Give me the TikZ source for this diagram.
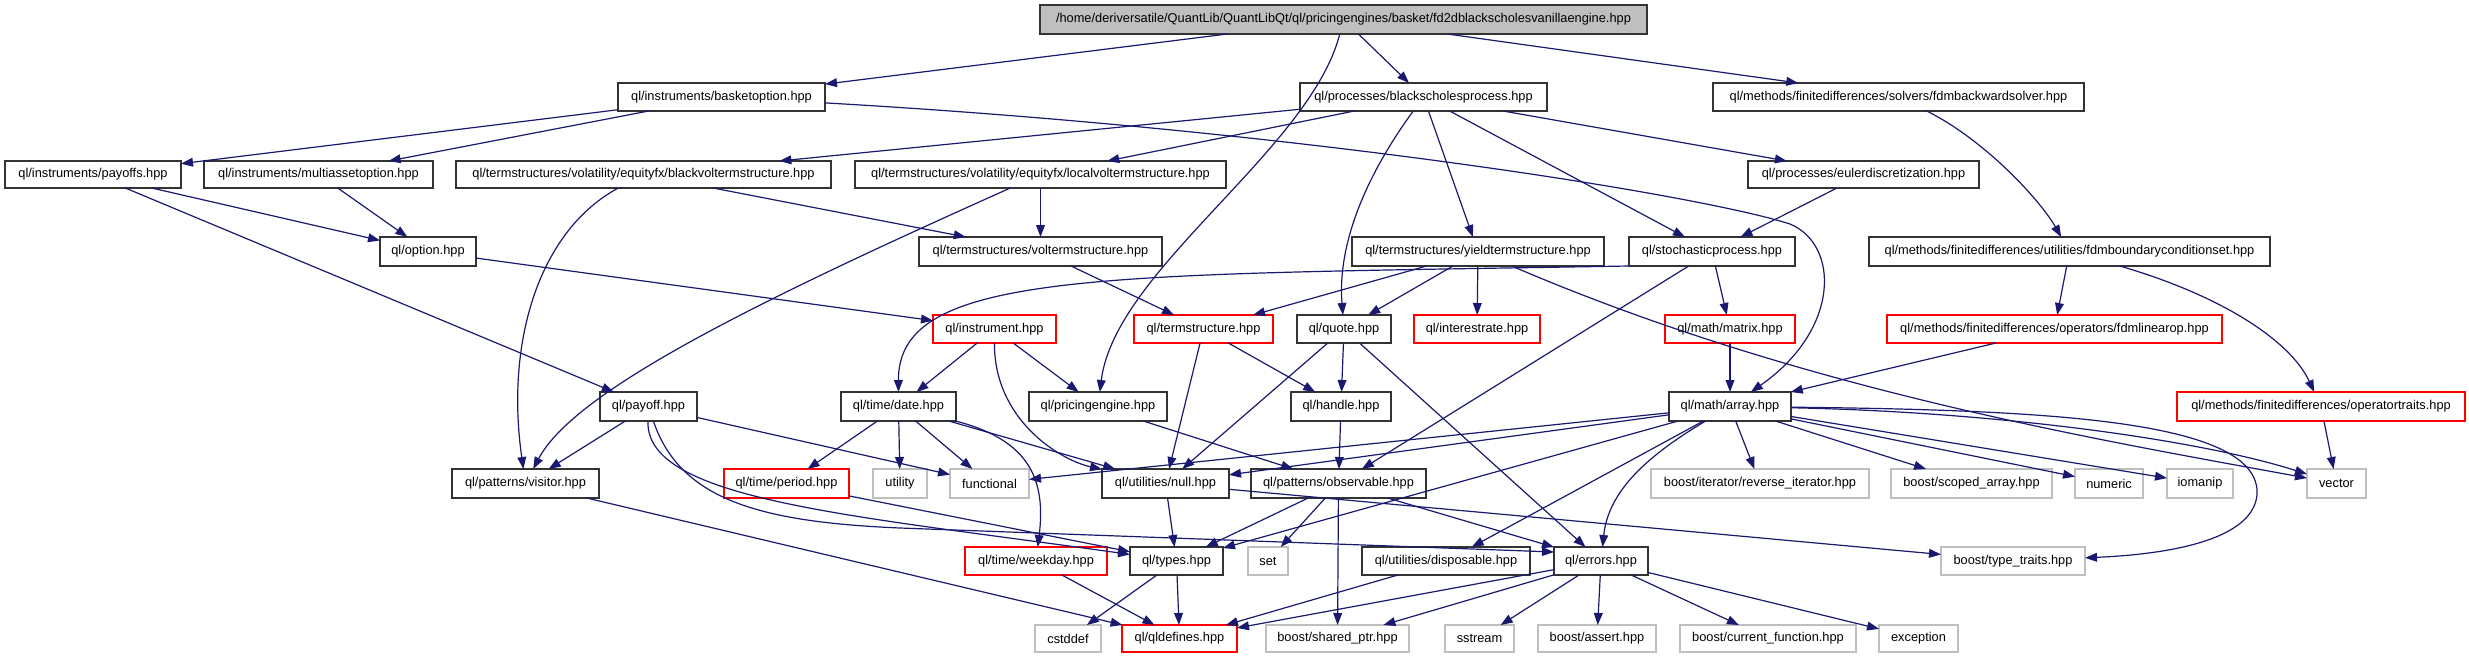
\documentclass[tikz,border=0pt]{standalone}
\usepackage{fontspec}
\setmainfont{Liberation Sans}
\usetikzlibrary{arrows.meta,calc}
\definecolor{mblue}{HTML}{191970}
\definecolor{gseventyfive}{HTML}{BFBFBF}
\newcommand{\bx}[7]{\node[#6,minimum width={(#4-#2)*0.5pt},minimum height={(#5-#3)*0.5pt}] (#1) at ({(#2+#4)/2},{(#3+#5)/2}) {#7};}
\begin{document}
\begin{tikzpicture}[x=0.5pt,y=-0.5pt,
 nd/.style={draw=black!80,line width=0.7pt,fill=white,inner sep=0pt,outer sep=0pt,font=\fontsize{6.4}{7}\selectfont},
 nb/.style={nd},
 nr/.style={nd,draw=red},
 ng/.style={nd,draw=gseventyfive},
 nroot/.style={nd,fill=gseventyfive},
 dep/.style={draw=mblue,line width=0.6pt,-{Triangle[length=6pt,width=4.4pt]}}]
\useasboundingbox[fill=white] (0,0) rectangle (2469,659);
% row 0
\bx{root}{1040}{5}{1647}{34}{nroot}{/home/deriversatile/QuantLib/QuantLibQt/ql/pricingengines/basket/fd2dblackscholesvanillaengine.hpp}
% row 1
\bx{basket}{618}{83}{825}{111}{nb}{ql/instruments/basketoption.hpp}
\bx{bsp}{1300}{83}{1547}{111}{nb}{ql/processes/blackscholesprocess.hpp}
\bx{fdmbws}{1713}{83}{2084}{111}{nb}{ql/methods/finitedifferences/solvers/fdmbackwardsolver.hpp}
% row 2
\bx{payoffs}{5}{161}{181}{188}{nb}{ql/instruments/payoffs.hpp}
\bx{multi}{204}{161}{433}{188}{nb}{ql/instruments/multiassetoption.hpp}
\bx{blackvol}{456}{161}{831}{188}{nb}{ql/termstructures/volatility/equityfx/blackvoltermstructure.hpp}
\bx{localvol}{855}{161}{1226}{188}{nb}{ql/termstructures/volatility/equityfx/localvoltermstructure.hpp}
\bx{euler}{1748}{161}{1979}{188}{nb}{ql/processes/eulerdiscretization.hpp}
% row 3
\bx{option}{380}{237}{476}{266}{nb}{ql/option.hpp}
\bx{volts}{919}{237}{1162}{266}{nb}{ql/termstructures/voltermstructure.hpp}
\bx{yield}{1352}{237}{1604}{266}{nb}{ql/termstructures/yieldtermstructure.hpp}
\bx{stoch}{1629}{237}{1795}{266}{nb}{ql/stochasticprocess.hpp}
\bx{fdmbcs}{1869}{237}{2270}{266}{nb}{ql/methods/finitedifferences/utilities/fdmboundaryconditionset.hpp}
% row 4
\bx{instr}{933}{315}{1056}{343}{nr}{ql/instrument.hpp}
\bx{ts}{1134}{315}{1273}{343}{nr}{ql/termstructure.hpp}
\bx{quote}{1297}{315}{1391}{343}{nb}{ql/quote.hpp}
\bx{irate}{1414}{315}{1540}{343}{nr}{ql/interestrate.hpp}
\bx{matrix}{1665}{315}{1795}{343}{nr}{ql/math/matrix.hpp}
\bx{fdmlin}{1887}{315}{2222}{343}{nr}{ql/methods/finitedifferences/operators/fdmlinearop.hpp}
% row 5
\bx{payoff}{600}{392}{697}{421}{nb}{ql/payoff.hpp}
\bx{date}{841}{392}{956}{421}{nb}{ql/time/date.hpp}
\bx{pe}{1029}{392}{1167}{421}{nb}{ql/pricingengine.hpp}
\bx{handle}{1291}{392}{1391}{421}{nb}{ql/handle.hpp}
\bx{array}{1669}{392}{1791}{421}{nb}{ql/math/array.hpp}
\bx{optraits}{2177}{392}{2465}{421}{nr}{ql/methods/finitedifferences/operatortraits.hpp}
% row 6
\bx{visitor}{452}{469}{599}{498}{nb}{ql/patterns/visitor.hpp}
\bx{period}{724}{469}{849}{498}{nr}{ql/time/period.hpp}
\bx{utility}{873}{469}{927}{498}{ng}{utility}
\bx{functional}{950}{469}{1029}{498}{ng}{functional}
\bx{null}{1102}{469}{1229}{498}{nb}{ql/utilities/null.hpp}
\bx{obs}{1251}{469}{1426}{498}{nb}{ql/patterns/observable.hpp}
\bx{revit}{1651}{469}{1869}{498}{ng}{boost/iterator/reverse\_iterator.hpp}
\bx{scoped}{1891}{469}{2052}{498}{ng}{boost/scoped\_array.hpp}
\bx{numeric}{2075}{469}{2143}{498}{ng}{numeric}
\bx{iomanip}{2167}{469}{2233}{498}{ng}{iomanip}
\bx{vector}{2307}{469}{2366}{498}{ng}{vector}
% row 7
\bx{weekday}{965}{547}{1107}{575}{nr}{ql/time/weekday.hpp}
\bx{types}{1130}{547}{1223}{575}{nb}{ql/types.hpp}
\bx{set}{1248}{547}{1288}{575}{ng}{set}
\bx{disp}{1362}{547}{1530}{575}{nb}{ql/utilities/disposable.hpp}
\bx{errors}{1554}{547}{1648}{575}{nb}{ql/errors.hpp}
\bx{ttraits}{1941}{547}{2085}{575}{ng}{boost/type\_traits.hpp}
% row 8
\bx{cstddef}{1035}{625}{1101}{652}{ng}{cstddef}
\bx{qldef}{1122}{625}{1237}{652}{nr}{ql/qldefines.hpp}
\bx{sharedptr}{1266}{625}{1409}{652}{ng}{boost/shared\_ptr.hpp}
\bx{sstream}{1445}{625}{1514}{652}{ng}{sstream}
\bx{assert}{1538}{625}{1656}{652}{ng}{boost/assert.hpp}
\bx{curfun}{1680}{625}{1856}{652}{ng}{boost/current\_function.hpp}
\bx{exception}{1879}{625}{1958}{652}{ng}{exception}
% edges
\draw[dep] (root) -- (basket);
\draw[dep] (root) -- (bsp);
\draw[dep] (root) -- (fdmbws);
\draw[dep] (root) .. controls (1310,150) and (1115,270) .. (pe);
\draw[dep] (basket) -- (payoffs);
\draw[dep] (basket) -- (multi);
\draw[dep] (basket) .. controls (1300,130) and (1700,195) .. (1790,224) .. controls (1840,245) and (1840,330) .. (array);
\draw[dep] (bsp) -- (blackvol);
\draw[dep] (bsp) -- (localvol);
\draw[dep] (bsp) .. controls (1370,170) and (1337,240) .. (quote);
\draw[dep] (bsp) -- (yield);
\draw[dep] (bsp) -- (stoch);
\draw[dep] (bsp) -- (euler);
\draw[dep] (fdmbws) .. controls (1985,140) and (2040,200) .. (fdmbcs);
\draw[dep] (payoffs) -- (option);
\draw[dep] (payoffs) -- (payoff);
\draw[dep] (multi) -- (option);
\draw[dep] (blackvol) -- (volts);
\draw[dep] (blackvol) .. controls (540,230) and (505,340) .. (visitor);
\draw[dep] (localvol) -- (volts);
\draw[dep] (localvol) .. controls (760,300) and (575,390) .. (visitor);
\draw[dep] (euler) -- (stoch);
\draw[dep] (option) -- (instr);
\draw[dep] (volts) -- (ts);
\draw[dep] (yield) -- (ts);
\draw[dep] (yield) -- (quote);
\draw[dep] (yield) -- (irate);
\draw[dep] (yield) .. controls (1800,390) and (2100,440) .. (vector);
\draw[dep] (stoch.south west) .. controls (1100,275) and (898,270) .. (date);
\draw[dep] (stoch) -- (obs);
\draw[dep] (stoch) -- (matrix);
\draw[dep] (fdmbcs) -- (fdmlin);
\draw[dep] (fdmbcs) .. controls (2220,295) and (2290,340) .. (optraits);
\draw[dep] (instr) -- (date);
\draw[dep] (instr) -- (pe);
\draw[dep] (instr) .. controls (994,420) and (1060,460) .. (null);
\draw[dep] (ts) -- (handle);
\draw[dep] (ts) -- (null);
\draw[dep] (quote) -- (handle);
\draw[dep] (quote) -- (null);
\draw[dep] (quote) -- (errors);
\draw[dep] (matrix) -- (array);
\draw[dep] (fdmlin) -- (array);
\draw[dep] (payoff) -- (visitor);
\draw[dep] (payoff) -- (functional);
\draw[dep] (payoff) .. controls (645,500) and (850,515) .. (types);
\draw[dep] (payoff) .. controls (680,500) and (760,522) .. (900,528) -- ($(errors.north west)+(0,5)$);
\draw[dep] (date) -- (period);
\draw[dep] (date) -- (utility);
\draw[dep] (date) -- (functional);
\draw[dep] (date) -- (null);
\draw[dep] (date) .. controls (1030,440) and (1046,480) .. (weekday);
\draw[dep] (pe) -- (obs);
\draw[dep] (handle) -- (obs);
\draw[dep] (array) -- (functional);
\draw[dep] (array) -- (null);
\draw[dep] (array) -- (types);
\draw[dep] (array) -- (disp);
\draw[dep] (array) .. controls (1640,460) and (1608,495) .. (errors);
\draw[dep] (array) -- (revit);
\draw[dep] (array) -- (scoped);
\draw[dep] (array) -- (numeric);
\draw[dep] (array) -- (iomanip);
\draw[dep] (array) .. controls (2000,412) and (2200,440) .. (vector);
\draw[dep] (array) .. controls (2050,410) and (2262,420) .. (2257,495) .. controls (2252,545) and (2150,555) .. (ttraits);
\draw[dep] (optraits) -- (vector);
\draw[dep] (visitor) -- (qldef);
\draw[dep] (period) -- (types);
\draw[dep] (null) -- (types);
\draw[dep] (null) -- (ttraits);
\draw[dep] (obs) -- (types);
\draw[dep] (obs) -- (set);
\draw[dep] (obs) -- (sharedptr);
\draw[dep] (obs) -- (errors);
\draw[dep] (weekday) -- (qldef);
\draw[dep] (types) -- (cstddef);
\draw[dep] (types) -- (qldef);
\draw[dep] (disp) -- (qldef);
\draw[dep] (errors) -- (qldef);
\draw[dep] (errors) -- (sharedptr);
\draw[dep] (errors) -- (sstream);
\draw[dep] (errors) -- (assert);
\draw[dep] (errors) -- (curfun);
\draw[dep] (errors) -- (exception);
\end{tikzpicture}
\end{document}
